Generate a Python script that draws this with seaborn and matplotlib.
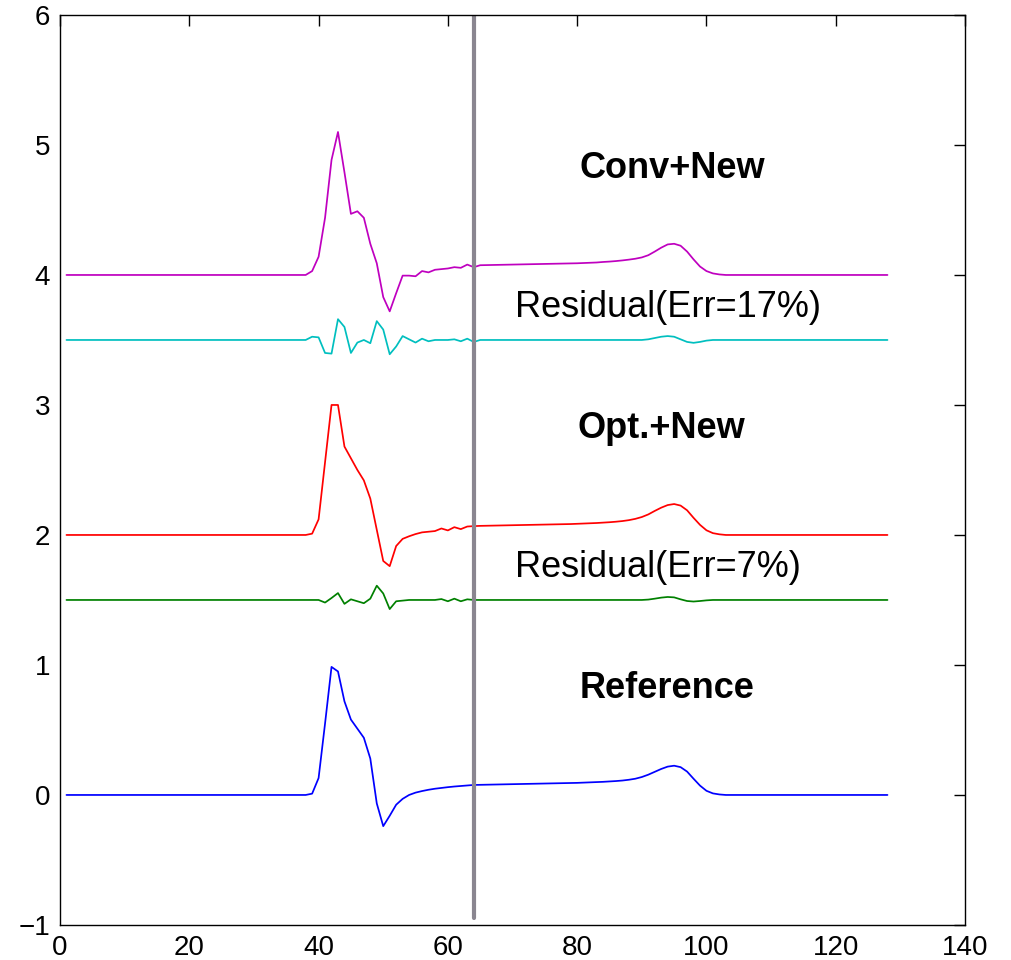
import numpy as np
import pandas as pd
import seaborn as sns
import matplotlib
matplotlib.use('Agg')
import matplotlib.pyplot as plt

# samples 1..128; lists below hold samples 38 onwards, flat baseline elsewhere
n_samples = 128
seg_start = 38

reference = [0.0, 0.01, 0.13, 0.55, 0.985, 0.95, 0.72, 0.58, 0.51, 0.44,
             0.28, -0.065, -0.24, -0.16, -0.075, -0.03, 0.0, 0.018, 0.03, 0.04,
             0.048, 0.054, 0.06, 0.065, 0.069, 0.073, 0.077, 0.078, 0.079, 0.08,
             0.081, 0.082, 0.083, 0.084, 0.085, 0.086, 0.087, 0.088, 0.089, 0.09,
             0.091, 0.092, 0.093, 0.095, 0.097, 0.099, 0.101, 0.104, 0.107, 0.111,
             0.117, 0.125, 0.138, 0.156, 0.178, 0.2, 0.218, 0.225, 0.214, 0.18,
             0.125, 0.072, 0.032, 0.012, 0.004, 0.0]

resid_opt = [1.5, 1.5, 1.5, 1.48, 1.515, 1.553, 1.47, 1.505, 1.49, 1.475,
             1.51, 1.61, 1.55, 1.43, 1.49, 1.495, 1.5, 1.5, 1.5, 1.5,
             1.5, 1.507, 1.49, 1.51, 1.49, 1.505, 1.5, 1.5, 1.5, 1.5,
             1.5, 1.5, 1.5, 1.5, 1.5, 1.5, 1.5, 1.5, 1.5, 1.5,
             1.5, 1.5, 1.5, 1.5, 1.5, 1.5, 1.5, 1.5, 1.5, 1.5,
             1.5, 1.5, 1.5, 1.503, 1.51, 1.518, 1.523, 1.52, 1.505, 1.492,
             1.488, 1.492, 1.497, 1.5, 1.5, 1.5]

opt_new = [2.0, 2.01, 2.12, 2.56, 3.0, 3.0, 2.68, 2.59, 2.5, 2.42,
           2.28, 2.04, 1.8, 1.76, 1.915, 1.97, 1.99, 2.007, 2.02, 2.025,
           2.03, 2.05, 2.035, 2.06, 2.045, 2.065, 2.068, 2.07, 2.071, 2.072,
           2.073, 2.074, 2.075, 2.076, 2.077, 2.078, 2.079, 2.08, 2.081, 2.082,
           2.083, 2.084, 2.086, 2.088, 2.09, 2.092, 2.095, 2.098, 2.102, 2.107,
           2.114, 2.124, 2.138, 2.158, 2.185, 2.21, 2.23, 2.238, 2.226, 2.19,
           2.132, 2.078, 2.036, 2.014, 2.005, 2.0]

resid_conv = [3.5, 3.525, 3.52, 3.4, 3.395, 3.66, 3.6, 3.4, 3.48, 3.5,
              3.475, 3.645, 3.58, 3.39, 3.45, 3.53, 3.505, 3.48, 3.51, 3.49,
              3.5, 3.5, 3.5, 3.505, 3.49, 3.51, 3.485, 3.5, 3.5, 3.5,
              3.5, 3.5, 3.5, 3.5, 3.5, 3.5, 3.5, 3.5, 3.5, 3.5,
              3.5, 3.5, 3.5, 3.5, 3.5, 3.5, 3.5, 3.5, 3.5, 3.5,
              3.5, 3.5, 3.5, 3.505, 3.515, 3.525, 3.53, 3.525, 3.505, 3.485,
              3.478, 3.485, 3.495, 3.5, 3.5, 3.5]

conv_new = [4.0, 4.03, 4.14, 4.44, 4.885, 5.1, 4.79, 4.47, 4.49, 4.44,
            4.24, 4.09, 3.83, 3.72, 3.86, 3.995, 3.995, 3.99, 4.03, 4.02,
            4.04, 4.045, 4.05, 4.06, 4.055, 4.08, 4.06, 4.075, 4.076, 4.077,
            4.078, 4.079, 4.08, 4.081, 4.082, 4.083, 4.084, 4.085, 4.086, 4.087,
            4.088, 4.089, 4.09, 4.092, 4.094, 4.096, 4.1, 4.103, 4.107, 4.112,
            4.118, 4.125, 4.135, 4.152, 4.18, 4.21, 4.235, 4.24, 4.225, 4.18,
            4.12, 4.065, 4.03, 4.012, 4.004, 4.0]

series = [
    (reference, 0.0, (0, 0, 1)),
    (resid_opt, 1.5, (0, 0.5, 0)),
    (opt_new, 2.0, (1, 0, 0)),
    (resid_conv, 3.5, (0, 0.75, 0.75)),
    (conv_new, 4.0, (0.75, 0, 0.75)),
]

split_x = 64


def full_series(seg, base):
    head = [base] * (seg_start - 1)
    tail = [base] * (n_samples - len(head) - len(seg))
    return head + seg + tail


sns.set_style('white')
plt.rcParams['font.family'] = ['Liberation Sans', 'DejaVu Sans']
plt.rcParams['text.color'] = 'black'

fig = plt.figure(figsize=(10.12, 9.6), dpi=100)
ax = fig.add_axes([0.0593, 0.0365, 0.8943, 0.9479])

x = np.arange(1, n_samples + 1)
for seg, base, color in series:
    df = pd.DataFrame({'x': x, 'y': full_series(seg, base)})
    sns.lineplot(data=df, x='x', y='y', color=color, lw=1.25, sort=False,
                 estimator=None, ax=ax)

ax.plot([split_x, split_x], [-0.95, 6], color='#8a8690', lw=3)

ax.text(94.7, 4.82, 'Conv+New', fontsize=26, fontweight='bold', ha='center', va='center', color='black')
ax.text(94.1, 3.75, 'Residual(Err=17%)', fontsize=26, ha='center', va='center', color='black')
ax.text(93.1, 2.82, 'Opt.+New', fontsize=26, fontweight='bold', ha='center', va='center', color='black')
ax.text(92.5, 1.75, 'Residual(Err=7%)', fontsize=26, ha='center', va='center', color='black')
ax.text(93.9, 0.82, 'Reference', fontsize=26, fontweight='bold', ha='center', va='center', color='black')

ax.set_xlim(0, 140)
ax.set_ylim(-1, 6)
ax.set_xticks(range(0, 141, 20))
ax.set_yticks(range(-1, 7))
ax.set_yticklabels(['\u22121', '0', '1', '2', '3', '4', '5', '6'])
ax.set_xlabel('')
ax.set_ylabel('')
ax.tick_params(direction='in', length=8, width=1, top=True, right=True,
               labelsize=20, pad=7, colors='black')
for sp in ax.spines.values():
    sp.set_visible(True)
    sp.set_color('black')
    sp.set_linewidth(1.0)

plt.savefig('out.png', dpi=100)
plt.close()
